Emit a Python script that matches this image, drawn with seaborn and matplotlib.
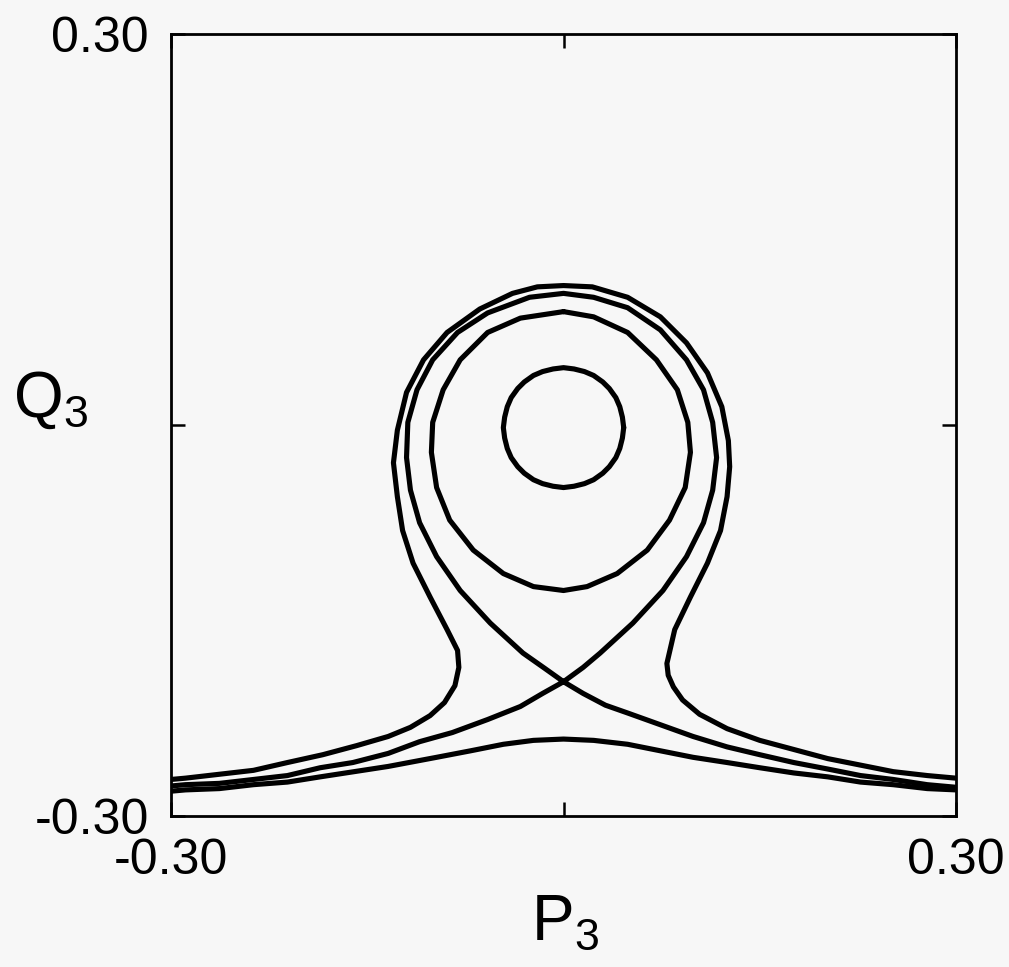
import numpy as np
import pandas as pd
import seaborn as sns
import matplotlib.pyplot as plt

# phase-space curves (P3, Q3)
circle_p = [0.046, 0.045, 0.043, 0.040, 0.035, 0.030, 0.023, 0.016, 0.008, 0.000, -0.008, -0.016,
            -0.023, -0.030, -0.035, -0.040, -0.043, -0.045, -0.046, -0.045, -0.043, -0.040, -0.035, -0.030,
            -0.023, -0.016, -0.008, 0.000, 0.008, 0.016, 0.023, 0.030, 0.035, 0.040, 0.043, 0.045, 0.046]
circle_q = [-0.002, 0.006, 0.014, 0.021, 0.028, 0.033, 0.038, 0.041, 0.043, 0.044, 0.043, 0.041,
            0.038, 0.033, 0.028, 0.021, 0.014, 0.006, -0.002, -0.010, -0.018, -0.025, -0.032, -0.037,
            -0.042, -0.045, -0.047, -0.048, -0.047, -0.045, -0.042, -0.037, -0.032, -0.025, -0.018, -0.010, -0.002]

egg_p = [0.000, 0.023, 0.049, 0.071, 0.087, 0.095, 0.097, 0.093, 0.081, 0.064, 0.041, 0.018, 0.000,
         -0.023, -0.046, -0.069, -0.087, -0.097, -0.101, -0.100, -0.092, -0.079, -0.058, -0.033, 0.000]
egg_q = [0.087, 0.083, 0.071, 0.050, 0.027, 0.002, -0.021, -0.048, -0.073, -0.096, -0.114, -0.124, -0.127,
         -0.124, -0.114, -0.096, -0.073, -0.048, -0.021, 0.002, 0.027, 0.050, 0.071, 0.082, 0.087]

sep_p = [-0.300, -0.289, -0.263, -0.237, -0.211, -0.186, -0.161, -0.134, -0.110, -0.085, -0.058, -0.033,
         -0.016, 0.000, 0.015, 0.028, 0.053, 0.076, 0.094, 0.107, 0.114, 0.117, 0.114, 0.107, 0.094, 0.074,
         0.049, 0.023, 0.000, -0.026, -0.058, -0.081, -0.100, -0.112, -0.119, -0.120, -0.117, -0.110,
         -0.097, -0.079, -0.056, -0.031, -0.014, 0.000, 0.015, 0.032, 0.049, 0.074, 0.099, 0.125, 0.150,
         0.176, 0.202, 0.227, 0.252, 0.278, 0.300]
sep_q = [-0.277, -0.276, -0.275, -0.272, -0.269, -0.263, -0.259, -0.252, -0.243, -0.236, -0.226, -0.216,
         -0.206, -0.197, -0.186, -0.175, -0.152, -0.127, -0.101, -0.075, -0.050, -0.025, 0.002, 0.027, 0.050,
         0.073, 0.090, 0.098, 0.101, 0.098, 0.086, 0.071, 0.050, 0.027, 0.002, -0.025, -0.050, -0.075,
         -0.101, -0.127, -0.152, -0.175, -0.187, -0.197, -0.206, -0.215, -0.221, -0.230, -0.239, -0.247,
         -0.253, -0.259, -0.264, -0.269, -0.272, -0.276, -0.278]

outer_p = [-0.300, -0.289, -0.263, -0.237, -0.211, -0.184, -0.158, -0.134, -0.117, -0.102, -0.091, -0.083,
           -0.080, -0.081, -0.089, -0.102, -0.115, -0.123, -0.127, -0.130, -0.127, -0.120, -0.107, -0.089,
           -0.064, -0.039, -0.020, 0.000, 0.022, 0.049, 0.074, 0.094, 0.110, 0.121, 0.126, 0.127, 0.125,
           0.120, 0.110, 0.097, 0.085, 0.079, 0.080, 0.084, 0.091, 0.104, 0.125, 0.150, 0.176, 0.202,
           0.227, 0.252, 0.278, 0.300]
outer_q = [-0.272, -0.271, -0.268, -0.265, -0.259, -0.253, -0.246, -0.239, -0.232, -0.223, -0.213, -0.200,
           -0.186, -0.173, -0.157, -0.132, -0.106, -0.081, -0.055, -0.029, -0.004, 0.025, 0.050, 0.071,
           0.089, 0.101, 0.106, 0.107, 0.106, 0.098, 0.083, 0.063, 0.040, 0.014, -0.012, -0.032, -0.055,
           -0.081, -0.106, -0.132, -0.157, -0.183, -0.192, -0.201, -0.211, -0.222, -0.233, -0.242, -0.249,
           -0.256, -0.261, -0.266, -0.269, -0.271]

hump_p = [-0.300, -0.289, -0.263, -0.237, -0.211, -0.186, -0.160, -0.134, -0.097, -0.071, -0.046, -0.023,
          0.000, 0.023, 0.049, 0.074, 0.099, 0.125, 0.150, 0.176, 0.202, 0.227, 0.252, 0.278, 0.300]
hump_q = [-0.281, -0.280, -0.279, -0.276, -0.274, -0.270, -0.266, -0.262, -0.255, -0.250, -0.245, -0.242,
          -0.241, -0.242, -0.245, -0.250, -0.255, -0.259, -0.263, -0.267, -0.270, -0.274, -0.276, -0.279, -0.280]

curves = {"circle": (circle_p, circle_q), "egg": (egg_p, egg_q), "separatrix": (sep_p, sep_q),
          "outer": (outer_p, outer_q), "hump": (hump_p, hump_q)}
df = pd.concat([pd.DataFrame({"P": p, "Q": q, "curve": name}) for name, (p, q) in curves.items()],
               ignore_index=True)

sns.set_style("ticks")
plt.rcParams['font.family'] = ['Liberation Sans', 'DejaVu Sans']
plt.rcParams['mathtext.default'] = 'regular'

bg = '#f7f7f7'
fig = plt.figure(figsize=(10.09, 9.67), dpi=100, facecolor=bg)
ax = fig.add_axes([0.1695, 0.1562, 0.778, 0.8086], facecolor=bg)

sns.lineplot(data=df, x="P", y="Q", units="curve", estimator=None, sort=False,
             color="black", ax=ax, legend=False)
for ln in ax.lines:
    ln.set_linewidth(3.7)
    ln.set_solid_joinstyle('round')
    ln.set_solid_capstyle('round')

ax.set_xlim(-0.3, 0.3)
ax.set_ylim(-0.3, 0.3)
ax.set_xticks([-0.3, 0, 0.3])
ax.set_xticklabels(["-0.30", "", "0.30"])
ax.set_yticks([-0.3, 0, 0.3])
ax.set_yticklabels(["-0.30", "", "0.30"])
ax.tick_params(direction='in', length=10, width=1.8, labelsize=36, pad=16,
               top=True, right=True, colors='black')
for s in ax.spines.values():
    s.set_linewidth(2.0)
    s.set_color('black')

ax.set_xlabel("P$_3$", fontsize=46, color='black', va='center')
ax.set_ylabel("Q$_3$", fontsize=46, color='black', rotation=0, ha='center', va='center')
ax.xaxis.set_label_coords(0.502, -0.137)
ax.yaxis.set_label_coords(-0.154, 0.532)

fig.savefig("out.png", dpi=100, facecolor=bg)
